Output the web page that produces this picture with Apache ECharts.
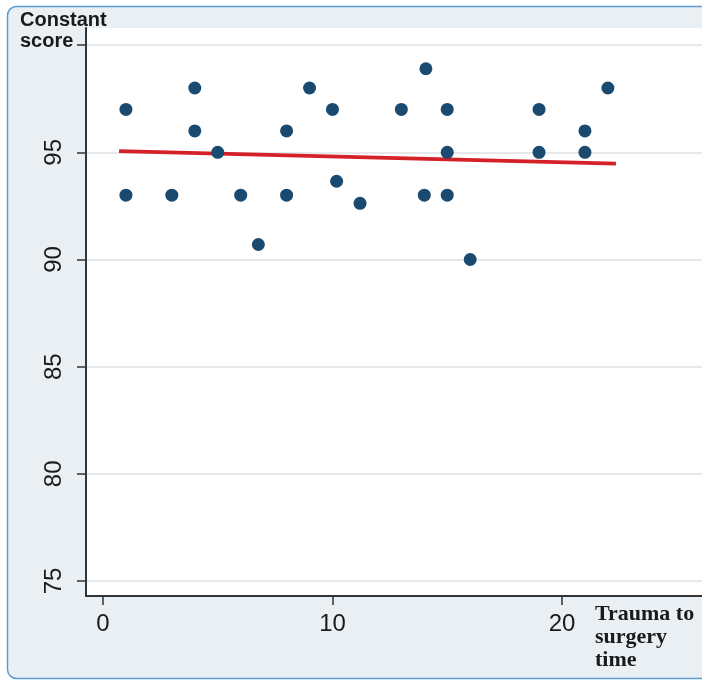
<!DOCTYPE html>
<html><head><meta charset="utf-8">
<script src="https://cdn.jsdelivr.net/npm/echarts@6/dist/echarts.min.js"></script>
<style>html,body{margin:0;padding:0;background:#fff}#c{width:702px;height:681px}</style>
</head><body><div id="c"></div>
<script>
// Data
const xValues = [1, 1, 3, 4, 4, 5, 6, 6.77, 8, 8, 9, 10, 10.18, 11.2, 13, 14.07, 14, 15, 15, 15, 16, 19, 19, 21, 21, 22];
const yValues = [97, 93, 93, 98, 96, 95, 93, 90.7, 96, 93, 98, 97, 93.65, 92.62, 97, 98.9, 93, 97, 95, 93, 90, 97, 95, 96, 95, 98];
const fitX = [0.7, 22.35];
const fitY = [95.06, 94.47];
const yTicks = [75, 80, 85, 90, 95, 100];
const yTickLabels = ['75', '80', '85', '90', '95', ''];
const xTicks = [0, 10, 20];
const xTickLabels = ['0', '10', '20'];
const yTitleLines = ['Constant', 'score'];
const xTitleLines = ['Trauma to', 'surgery', 'time'];

const points = xValues.map((x, i) => [x, yValues[i]]);
const fitLine = fitX.map((x, i) => [x, fitY[i]]);

const chart = echarts.init(document.getElementById('c'), null, {renderer: 'canvas'});
chart.setOption({
  backgroundColor: '#ffffff',
  animation: false,
  graphic: [
    {type: 'rect', z: -100, shape: {x: 7.5, y: 6.5, width: 760, height: 672, r: 9},
     style: {fill: '#e9eff3', stroke: '#5b9bd5', lineWidth: 1.5}},
    {type: 'text', left: 20, top: 10, z: 10,
     style: {text: yTitleLines.join('\n'), font: 'bold 20px "Liberation Sans", Arial, sans-serif', fill: '#1a1a1a', lineHeight: 21}},
    {type: 'text', left: 595, top: 603, z: 10,
     style: {text: xTitleLines.join('\n'), font: 'bold 22px "Liberation Serif", "Times New Roman", serif', fill: '#1a1a1a', lineHeight: 23}}
  ],
  grid: {left: 86, top: 28, right: 0, bottom: 85, show: true, backgroundColor: '#ffffff', borderWidth: 0, containLabel: false},
  xAxis: {
    type: 'value', min: -0.74, max: 26.1,
    axisLine: {show: true, onZero: false, lineStyle: {color: '#333', width: 2}},
    axisTick: {show: true, length: 9, customValues: xTicks, lineStyle: {color: '#333', width: 1.5}},
    axisLabel: {show: true, customValues: xTicks, formatter: v => xTickLabels[xTicks.indexOf(v)] ?? '',
      fontSize: 24, color: '#1a1a1a', fontFamily: '"Liberation Sans", Arial, sans-serif', margin: 16},
    splitLine: {show: false}
  },
  yAxis: {
    type: 'value', min: 74.3, max: 100.8,
    axisLine: {show: true, onZero: false, lineStyle: {color: '#333', width: 2}},
    axisTick: {show: true, length: 9, customValues: yTicks, lineStyle: {color: '#333', width: 1.5}},
    axisLabel: {show: true, customValues: yTicks, rotate: 90, formatter: v => yTickLabels[yTicks.indexOf(v)] ?? '',
      fontSize: 24, color: '#1a1a1a', fontFamily: '"Liberation Sans", Arial, sans-serif', margin: 20},
    splitLine: {show: true, lineStyle: {color: '#e6e8ea', width: 2}}
  },
  series: [
    {type: 'line', data: fitLine, z: 2, showSymbol: false, symbol: 'none', silent: true,
     lineStyle: {color: '#d42027', width: 3.8}},
    {type: 'scatter', data: points, z: 3, symbol: 'circle', symbolSize: 13,
     itemStyle: {color: '#1b4a70', opacity: 1}}
  ]
});
</script></body></html>
